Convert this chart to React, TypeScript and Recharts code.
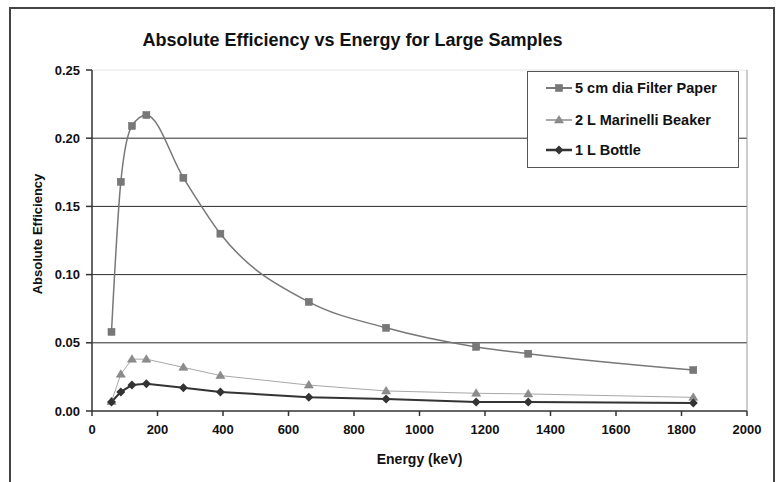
import React from "react";
import {
  LineChart,
  Line,
  XAxis,
  YAxis,
  CartesianGrid,
  ReferenceLine,
  Legend,
  Label,
} from "recharts";

const energies = [59.5, 88, 122, 166, 279, 392, 662, 898, 1173, 1332, 1836];
const filterPaper = [0.058, 0.168, 0.209, 0.217, 0.171, 0.13, 0.08, 0.061, 0.047, 0.042, 0.03];
const marinelli = [0.007, 0.027, 0.038, 0.038, 0.032, 0.026, 0.019, 0.0147, 0.013, 0.0125, 0.01];
const bottle = [0.0066, 0.014, 0.019, 0.02, 0.017, 0.014, 0.01, 0.0088, 0.0066, 0.0066, 0.0059];

const seriesNames = ["5 cm dia Filter Paper", "2 L Marinelli Beaker", "1 L Bottle"];
const xTicks = [0, 200, 400, 600, 800, 1000, 1200, 1400, 1600, 1800, 2000];
const yTicks = [0, 0.05, 0.1, 0.15, 0.2, 0.25];
const gridValues = [0.05, 0.1, 0.15, 0.2];

const data = energies.map((e, i) => ({
  energy: e,
  filter: filterPaper[i],
  marinelli: marinelli[i],
  bottle: bottle[i],
}));

const FONT = "'Liberation Sans', Arial, sans-serif";
const C_FILTER = "#787878";
const C_MARI = "#8c8c8c";
const C_BOTTLE = "#333333";

const Square = (p: any) => {
  const { cx, cy } = p;
  if (cx == null || cy == null) return null;
  return <rect x={cx - 3.5} y={cy - 3.5} width={7} height={7} fill={C_FILTER} stroke="#6a6a6a" strokeWidth={0.5} />;
};
const Triangle = (p: any) => {
  const { cx, cy } = p;
  if (cx == null || cy == null) return null;
  return (
    <polygon
      points={`${cx},${cy - 4.5} ${cx + 4.5},${cy + 3} ${cx - 4.5},${cy + 3}`}
      fill={C_MARI}
      stroke="#7a7a7a"
      strokeWidth={0.5}
    />
  );
};
const Diamond = (p: any) => {
  const { cx, cy } = p;
  if (cx == null || cy == null) return null;
  return (
    <polygon
      points={`${cx},${cy - 4.5} ${cx + 4.5},${cy} ${cx},${cy + 4.5} ${cx - 4.5},${cy}`}
      fill={C_BOTTLE}
    />
  );
};

const legendItems = [
  { name: seriesNames[0], color: C_FILTER, width: 1.5, Marker: Square, y: 16 },
  { name: seriesNames[1], color: C_MARI, width: 1, Marker: Triangle, y: 48 },
  { name: seriesNames[2], color: C_BOTTLE, width: 2, Marker: Diamond, y: 78 },
];

const LegendBox = () => (
  <div
    style={{
      position: "relative",
      width: 212,
      height: 97,
      boxSizing: "border-box",
      border: "1.5px solid #555",
      background: "#fff",
      fontFamily: FONT,
    }}
  >
    {legendItems.map((it) => (
      <div key={it.name} style={{ position: "absolute", left: 16, top: it.y - 9, height: 18, display: "flex", alignItems: "center" }}>
        <svg width={30} height={18} style={{ display: "block" }}>
          <line x1={2} y1={9} x2={28} y2={9} stroke={it.color} strokeWidth={it.width + 0.5} />
          <it.Marker cx={15} cy={9} />
        </svg>
        <span style={{ fontWeight: "bold", fontSize: 14.5, color: "#111", marginLeft: 1, whiteSpace: "nowrap" }}>{it.name}</span>
      </div>
    ))}
  </div>
);

const YTitle = (props: any) => {
  return (
    <text
      x={37}
      y={234}
      transform="rotate(-90, 37, 234)"
      textAnchor="middle"
      dominantBaseline="central"
      style={{ fontFamily: FONT, fontWeight: "bold", fontSize: 13, fill: "#111" }}
    >
      Absolute Efficiency
    </text>
  );
};

export default function App() {
  return (
    <div style={{ position: "absolute", left: 0, top: 0, width: 780, height: 482, overflow: "hidden", background: "#fff" }}>
      <div
        style={{
          position: "absolute",
          left: 9,
          top: 7,
          width: 766,
          height: 520,
          boxSizing: "border-box",
          border: "2px solid #444",
        }}
      />
      <div
        style={{
          position: "absolute",
          left: 0,
          top: 30,
          width: 705,
          textAlign: "center",
          fontFamily: FONT,
          fontWeight: "bold",
          fontSize: 18,
          lineHeight: "20px",
          color: "#111",
        }}
      >
        Absolute Efficiency vs Energy for Large Samples
      </div>
      <div style={{ position: "absolute", left: 0, top: 0 }}>
        <LineChart
          width={780}
          height={482}
          data={data}
          margin={{ top: 70, right: 33, bottom: 11, left: 32 }}
          style={{ fontFamily: FONT }}
        >
          <CartesianGrid horizontal vertical={false} horizontalValues={gridValues} stroke="#2a2a2a" strokeWidth={1} />
          <ReferenceLine y={0.25} stroke="#e4e4e4" strokeWidth={1} />
          <ReferenceLine x={2000} stroke="#999" strokeWidth={1} />
          <XAxis
            dataKey="energy"
            type="number"
            domain={[0, 2000]}
            ticks={xTicks}
            height={60}
            tickSize={5}
            tickMargin={9}
            stroke="#333"
            strokeWidth={1.5}
            tick={{ fontFamily: FONT, fontWeight: "bold", fontSize: 13, fill: "#111" }}
            interval={0}
          >
            <Label
              value="Energy (keV)"
              position="insideBottom"
              offset={7}
              style={{ fontFamily: FONT, fontWeight: "bold", fontSize: 14, fill: "#111" }}
            />
          </XAxis>
          <YAxis
            type="number"
            domain={[0, 0.25]}
            ticks={yTicks}
            width={60}
            tickSize={6}
            tickMargin={6}
            stroke="#333"
            strokeWidth={1.5}
            tickFormatter={(v: number) => v.toFixed(2)}
            tick={{ fontFamily: FONT, fontWeight: "bold", fontSize: 13, fill: "#111" }}
            interval={0}
          >
            <Label content={<YTitle />} />
          </YAxis>
          <Legend
            layout="vertical"
            verticalAlign="middle"
            align="center"
            wrapperStyle={{ position: "absolute", left: 527, top: 71, width: 212, height: 97 }}
            content={() => <LegendBox />}
          />
          <Line
            name={seriesNames[1]}
            dataKey="marinelli"
            type="linear"
            stroke="#a8a8a8"
            strokeWidth={1}
            dot={<Triangle />}
            activeDot={false}
            isAnimationActive={false}
          />
          <Line
            name={seriesNames[0]}
            dataKey="filter"
            type="monotone"
            stroke={C_FILTER}
            strokeWidth={1.5}
            dot={<Square />}
            activeDot={false}
            isAnimationActive={false}
          />
          <Line
            name={seriesNames[2]}
            dataKey="bottle"
            type="linear"
            stroke={C_BOTTLE}
            strokeWidth={2}
            dot={<Diamond />}
            activeDot={false}
            isAnimationActive={false}
          />
        </LineChart>
      </div>
    </div>
  );
}
